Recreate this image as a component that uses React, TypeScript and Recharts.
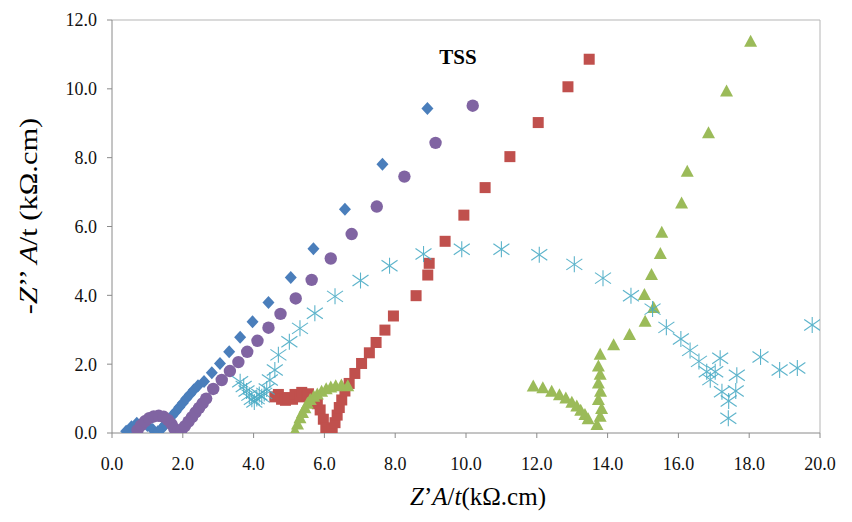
import React from 'react';
import { ScatterChart, Scatter, XAxis, YAxis, ReferenceLine } from 'recharts';

const xTicks = [0, 2, 4, 6, 8, 10, 12, 14, 16, 18, 20];
const yTicks = [0, 2, 4, 6, 8, 10, 12];

const blueSeries = [
  { x: 0.4, y: 0.05 }, { x: 0.55, y: 0.18 }, { x: 0.7, y: 0.28 }, { x: 0.85, y: 0.3 },
  { x: 1.0, y: 0.22 }, { x: 1.15, y: 0.1 }, { x: 1.3, y: 0.04 }, { x: 1.4, y: 0.12 },
  { x: 1.5, y: 0.25 }, { x: 1.6, y: 0.37 }, { x: 1.7, y: 0.5 }, { x: 1.8, y: 0.62 },
  { x: 1.9, y: 0.75 }, { x: 2.0, y: 0.87 }, { x: 2.1, y: 1.0 }, { x: 2.2, y: 1.12 },
  { x: 2.31, y: 1.25 }, { x: 2.43, y: 1.37 }, { x: 2.6, y: 1.5 }, { x: 2.82, y: 1.75 },
  { x: 3.05, y: 2.02 }, { x: 3.31, y: 2.36 }, { x: 3.62, y: 2.78 }, { x: 3.97, y: 3.23 },
  { x: 4.42, y: 3.79 }, { x: 5.05, y: 4.52 }, { x: 5.69, y: 5.35 }, { x: 6.58, y: 6.5 },
  { x: 7.64, y: 7.81 }, { x: 8.91, y: 9.43 },
];

const redSeries = [
  { x: 4.6, y: 1.05 }, { x: 4.7, y: 1.12 }, { x: 4.79, y: 0.98 }, { x: 4.9, y: 0.95 },
  { x: 4.98, y: 1.03 }, { x: 5.1, y: 0.98 }, { x: 5.17, y: 1.12 }, { x: 5.3, y: 1.05 },
  { x: 5.36, y: 1.18 }, { x: 5.5, y: 1.08 }, { x: 5.55, y: 1.14 }, { x: 5.69, y: 1.02 },
  { x: 5.8, y: 0.85 }, { x: 5.88, y: 0.67 }, { x: 5.97, y: 0.4 }, { x: 6.04, y: 0.15 },
  { x: 6.1, y: 0.04 }, { x: 6.22, y: 0.08 }, { x: 6.3, y: 0.3 }, { x: 6.36, y: 0.52 },
  { x: 6.42, y: 0.74 }, { x: 6.49, y: 0.96 }, { x: 6.58, y: 1.22 }, { x: 6.7, y: 1.44 },
  { x: 6.86, y: 1.73 }, { x: 7.05, y: 2.02 }, { x: 7.27, y: 2.33 }, { x: 7.46, y: 2.63 },
  { x: 7.71, y: 2.99 }, { x: 7.95, y: 3.4 }, { x: 8.59, y: 3.99 }, { x: 8.92, y: 4.59 },
  { x: 8.96, y: 4.93 }, { x: 9.41, y: 5.57 }, { x: 9.94, y: 6.33 }, { x: 10.54, y: 7.13 },
  { x: 11.24, y: 8.03 }, { x: 12.04, y: 9.02 }, { x: 12.88, y: 10.06 }, { x: 13.48, y: 10.86 },
];

const greenSeries = [
  { x: 5.17, y: 0.05 }, { x: 5.24, y: 0.25 }, { x: 5.31, y: 0.43 }, { x: 5.38, y: 0.58 },
  { x: 5.45, y: 0.72 }, { x: 5.52, y: 0.85 }, { x: 5.6, y: 0.96 }, { x: 5.7, y: 1.05 },
  { x: 5.8, y: 1.12 }, { x: 5.92, y: 1.2 }, { x: 6.05, y: 1.27 }, { x: 6.18, y: 1.32 },
  { x: 6.32, y: 1.36 }, { x: 6.48, y: 1.38 }, { x: 6.66, y: 1.36 },
  { x: 11.9, y: 1.35 }, { x: 12.17, y: 1.3 }, { x: 12.42, y: 1.2 }, { x: 12.64, y: 1.1 },
  { x: 12.82, y: 1.0 }, { x: 12.99, y: 0.88 }, { x: 13.13, y: 0.77 }, { x: 13.24, y: 0.65 },
  { x: 13.36, y: 0.52 }, { x: 13.45, y: 0.4 }, { x: 13.7, y: 0.23 }, { x: 13.79, y: 0.47 },
  { x: 13.83, y: 0.7 }, { x: 13.74, y: 0.96 }, { x: 13.8, y: 1.2 }, { x: 13.74, y: 1.44 },
  { x: 13.79, y: 1.69 }, { x: 13.74, y: 1.93 }, { x: 13.79, y: 2.27 }, { x: 14.17, y: 2.55 },
  { x: 14.62, y: 2.85 }, { x: 15.06, y: 3.23 }, { x: 15.3, y: 3.63 }, { x: 15.04, y: 4.01 },
  { x: 15.24, y: 4.59 }, { x: 15.49, y: 5.2 }, { x: 15.53, y: 5.82 }, { x: 16.09, y: 6.67 },
  { x: 16.25, y: 7.59 }, { x: 16.85, y: 8.71 }, { x: 17.36, y: 9.92 }, { x: 18.04, y: 11.37 },
];

const purpleSeries = [
  { x: 0.72, y: 0.08 }, { x: 0.82, y: 0.22 }, { x: 0.93, y: 0.34 }, { x: 1.05, y: 0.43 },
  { x: 1.18, y: 0.48 }, { x: 1.32, y: 0.5 }, { x: 1.46, y: 0.47 }, { x: 1.58, y: 0.38 },
  { x: 1.68, y: 0.26 }, { x: 1.76, y: 0.13 }, { x: 1.86, y: 0.05 }, { x: 1.96, y: 0.08 },
  { x: 2.06, y: 0.2 }, { x: 2.16, y: 0.33 }, { x: 2.26, y: 0.46 }, { x: 2.36, y: 0.6 },
  { x: 2.46, y: 0.73 }, { x: 2.56, y: 0.86 }, { x: 2.66, y: 1.0 }, { x: 2.86, y: 1.28 },
  { x: 3.1, y: 1.54 }, { x: 3.33, y: 1.8 }, { x: 3.57, y: 2.06 }, { x: 3.82, y: 2.36 },
  { x: 4.11, y: 2.68 }, { x: 4.42, y: 3.06 }, { x: 4.76, y: 3.46 }, { x: 5.19, y: 3.91 },
  { x: 5.64, y: 4.45 }, { x: 6.18, y: 5.07 }, { x: 6.77, y: 5.78 }, { x: 7.48, y: 6.58 },
  { x: 8.26, y: 7.45 }, { x: 9.14, y: 8.43 }, { x: 10.19, y: 9.51 },
];

const cyanSeries = [
  { x: 3.62, y: 1.49 }, { x: 3.72, y: 1.35 }, { x: 3.8, y: 1.22 }, { x: 3.88, y: 1.1 },
  { x: 3.95, y: 0.98 }, { x: 4.02, y: 0.9 }, { x: 4.09, y: 1.0 }, { x: 4.16, y: 1.12 },
  { x: 4.23, y: 1.05 }, { x: 4.3, y: 1.15 }, { x: 4.37, y: 1.28 }, { x: 4.46, y: 1.54 },
  { x: 4.6, y: 1.83 }, { x: 4.7, y: 2.27 }, { x: 5.01, y: 2.65 }, { x: 5.31, y: 3.04 },
  { x: 5.73, y: 3.48 }, { x: 6.3, y: 3.97 }, { x: 7.02, y: 4.43 }, { x: 7.84, y: 4.86 },
  { x: 8.8, y: 5.2 }, { x: 9.88, y: 5.34 }, { x: 11.0, y: 5.34 }, { x: 12.07, y: 5.18 },
  { x: 13.06, y: 4.9 }, { x: 13.87, y: 4.5 }, { x: 14.66, y: 3.99 }, { x: 15.27, y: 3.6 },
  { x: 15.66, y: 3.07 }, { x: 16.07, y: 2.73 }, { x: 16.33, y: 2.4 }, { x: 16.58, y: 2.08 },
  { x: 16.8, y: 1.78 }, { x: 16.9, y: 1.55 }, { x: 17.04, y: 1.78 }, { x: 17.18, y: 2.17 },
  { x: 17.23, y: 1.2 }, { x: 17.42, y: 0.93 }, { x: 17.41, y: 0.43 }, { x: 17.62, y: 1.22 },
  { x: 17.65, y: 1.68 }, { x: 18.32, y: 2.21 }, { x: 18.86, y: 1.83 }, { x: 19.36, y: 1.89 },
  { x: 19.78, y: 3.14 },
];

const serif = 'Liberation Serif, Times New Roman, serif';
const axisColor = '#8a8a8a';

const DiamondShape = (p: any) => {
  const { cx, cy } = p;
  return (
    <polygon
      points={`${cx},${cy - 6.5} ${cx + 6},${cy} ${cx},${cy + 6.5} ${cx - 6},${cy}`}
      fill="#4A7EBB"
    />
  );
};

const SquareShape = (p: any) => {
  const { cx, cy } = p;
  return <rect x={cx - 5.5} y={cy - 5.5} width={11} height={11} fill="#C0504D" />;
};

const TriangleShape = (p: any) => {
  const { cx, cy } = p;
  return (
    <polygon
      points={`${cx},${cy - 7} ${cx + 6.5},${cy + 5} ${cx - 6.5},${cy + 5}`}
      fill="#9BBB59"
    />
  );
};

const CircleShape = (p: any) => {
  const { cx, cy } = p;
  return <circle cx={cx} cy={cy} r={6.2} fill="#8064A2" />;
};

const StarShape = (p: any) => {
  const { cx, cy } = p;
  return (
    <g stroke="#4BACC6" strokeWidth={1.1} opacity={0.9}>
      <line x1={cx} y1={cy - 8} x2={cx} y2={cy + 8} />
      <line x1={cx - 8} y1={cy - 5.5} x2={cx + 8} y2={cy + 5.5} />
      <line x1={cx - 8} y1={cy + 5.5} x2={cx + 8} y2={cy - 5.5} />
    </g>
  );
};

const fmt = (v: number) => v.toFixed(1);

export default function App() {
  return (
    <div style={{ position: 'absolute', left: 0, top: 0, width: 852, height: 522, background: '#fff' }}>
      <ScatterChart width={852} height={522} margin={{ top: 20, right: 32, bottom: 49, left: 52 }}>
        <XAxis
          type="number"
          dataKey="x"
          domain={[0, 20]}
          ticks={xTicks}
          tickFormatter={fmt}
          height={40}
          tickSize={5}
          tickMargin={19}
          axisLine={{ stroke: axisColor }}
          tickLine={{ stroke: axisColor }}
          tick={{ fill: '#111', fontSize: 18, fontFamily: serif }}
          allowDataOverflow
        />
        <YAxis
          type="number"
          dataKey="y"
          domain={[0, 12]}
          ticks={yTicks}
          tickFormatter={fmt}
          width={60}
          tickSize={5}
          tickMargin={10}
          axisLine={{ stroke: axisColor }}
          tickLine={{ stroke: axisColor }}
          tick={{ fill: '#111', fontSize: 18, fontFamily: serif }}
          allowDataOverflow
        />
        <ReferenceLine x={20} stroke="#b5b5b5" />
        <ReferenceLine y={12} stroke="#b5b5b5" />
        <Scatter data={blueSeries} shape={DiamondShape} isAnimationActive={false} />
        <Scatter data={redSeries} shape={SquareShape} isAnimationActive={false} />
        <Scatter data={greenSeries} shape={TriangleShape} isAnimationActive={false} />
        <Scatter data={purpleSeries} shape={CircleShape} isAnimationActive={false} />
        <Scatter data={cyanSeries} shape={StarShape} isAnimationActive={false} />
      </ScatterChart>
      <div
        style={{
          position: 'absolute', left: 458, top: 57, transform: 'translate(-50%, -50%)',
          fontFamily: serif, fontWeight: 'bold', fontSize: 21, whiteSpace: 'nowrap', color: '#000',
        }}
      >
        TSS
      </div>
      <div
        style={{
          position: 'absolute', left: 478, top: 497, transform: 'translate(-50%, -50%)',
          fontFamily: serif, fontSize: 25, whiteSpace: 'nowrap', color: '#000',
        }}
      >
        <i>Z</i>’<i>A</i>/<i>t</i>(kΩ.cm)
      </div>
      <div
        style={{
          position: 'absolute', left: 29, top: 216,
          transform: 'translate(-50%, -50%) rotate(-90deg) scaleX(1.17)',
          fontFamily: serif, fontSize: 26, whiteSpace: 'nowrap', color: '#000',
        }}
      >
        -<i>Z</i>’’ <i>A</i>/t (kΩ.cm)
      </div>
    </div>
  );
}
